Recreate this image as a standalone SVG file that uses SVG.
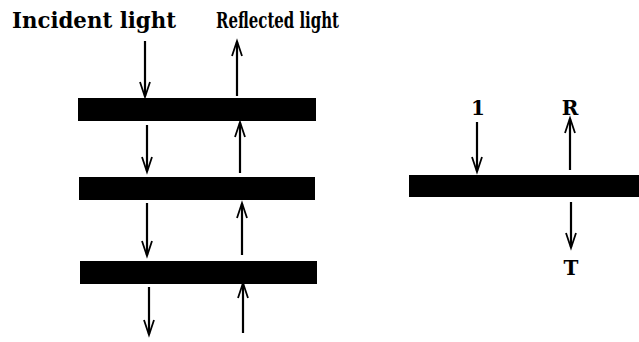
<svg xmlns="http://www.w3.org/2000/svg" width="639" height="342" viewBox="0 0 639 342">
<style>
.bar{fill:#000}
.lbl{font-family:"DejaVu Serif","Liberation Serif",serif;font-weight:bold;fill:#000}
.ln{stroke:#000;stroke-width:2.2;fill:none;stroke-linecap:butt}
.hd{stroke:#000;stroke-width:1.8;fill:none;stroke-linejoin:miter}
</style>
<rect width="639" height="342" fill="#fff"/>
<g id="labels">
<text class="lbl" x="12" y="28" font-size="22" textLength="164" lengthAdjust="spacingAndGlyphs">Incident light</text>
<text class="lbl" x="216" y="28" font-size="22" textLength="123" lengthAdjust="spacingAndGlyphs">Reflected light</text>
</g>
<g id="plate1"><rect class="bar" x="78" y="98" width="238" height="23"/></g>
<g id="plate2"><rect class="bar" x="79" y="177" width="236" height="23"/></g>
<g id="plate3"><rect class="bar" x="80" y="261" width="237" height="23"/></g>
<g id="single-plate"><rect class="bar" x="409" y="175" width="230" height="22"/></g>
<g id="single-labels">
<text class="lbl" x="478" y="115" font-size="20" text-anchor="middle">1</text>
<text class="lbl" x="570" y="115" font-size="20" text-anchor="middle">R</text>
<text class="lbl" x="571" y="275" font-size="20" text-anchor="middle">T</text>
</g>
<g id="connectors">
<line class="ln" x1="145" y1="41" x2="145" y2="96"/><polyline class="hd" points="140,82 145,97 150,82"/>
<line class="ln" x1="147" y1="125" x2="147" y2="171"/><polyline class="hd" points="142,157 147,172 152,157"/>
<line class="ln" x1="147" y1="203" x2="147" y2="255"/><polyline class="hd" points="142,241 147,256 152,241"/>
<line class="ln" x1="149" y1="287" x2="149" y2="334"/><polyline class="hd" points="144,320 149,335 154,320"/>
<line class="ln" x1="237" y1="42" x2="237" y2="96"/><polyline class="hd" points="232,56 237,41 242,56"/>
<line class="ln" x1="240" y1="123" x2="240" y2="173"/><polyline class="hd" points="235,137 240,122 245,137"/>
<line class="ln" x1="242" y1="204" x2="242" y2="255"/><polyline class="hd" points="237,218 242,203 247,218"/>
<line class="ln" x1="243" y1="284" x2="243" y2="333"/><polyline class="hd" points="238,298 243,283 248,298"/>
<line class="ln" x1="477" y1="122" x2="477" y2="171"/><polyline class="hd" points="472,157 477,172 482,157"/>
<line class="ln" x1="570" y1="119" x2="570" y2="170"/><polyline class="hd" points="565,133 570,118 575,133"/>
<line class="ln" x1="571" y1="202" x2="571" y2="247"/><polyline class="hd" points="566,233 571,248 576,233"/>
</g>
</svg>
